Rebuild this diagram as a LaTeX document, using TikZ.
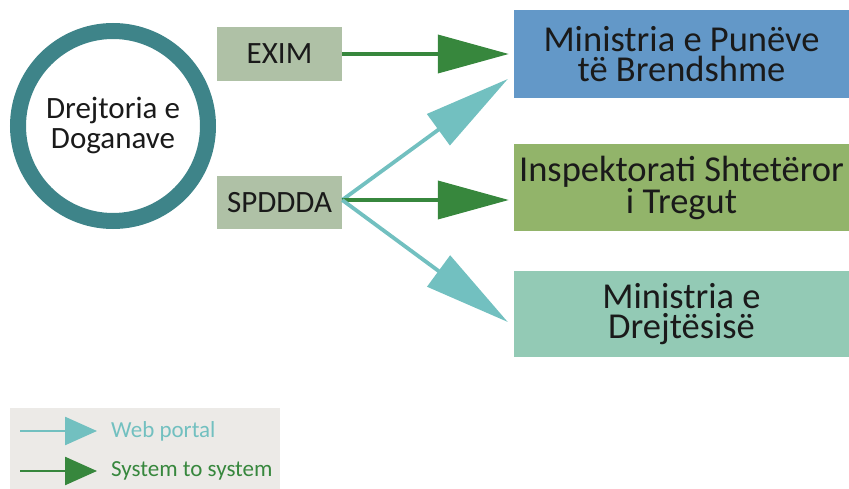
\documentclass[tikz,border=0pt]{standalone}
\usepackage{fontspec}
\setmainfont{Carlito}
\usetikzlibrary{
  arrows.meta,
  positioning,
  calc
}
\definecolor{ringteal}{HTML}{3E8489}
\definecolor{sage}{HTML}{AFC1A6}
\definecolor{mpbblue}{HTML}{6398C8}
\definecolor{istgreen}{HTML}{92B46A}
\definecolor{mdteal}{HTML}{93CAB5}
\definecolor{sysgreen}{HTML}{37873D}
\definecolor{webteal}{HTML}{72C0C0}
\definecolor{legendgrey}{HTML}{ECEAE7}
\definecolor{textgrey}{HTML}{1A1A1A}

\begin{document}
\begin{tikzpicture}[x=1pt,y=-1pt,text=textgrey,
  src/.style={rectangle, fill=sage, minimum width=125pt, minimum height=54pt, inner sep=0pt, font=\fontsize{31}{31}\selectfont},
  inst/.style={rectangle, minimum width=335pt, inner sep=0pt, align=center, font=\fontsize{36.5}{30}\selectfont},
  sys/.style={sysgreen, line width=3.8pt, -{Triangle[length=71pt,width=38pt]}, shorten >=5pt},
  web/.style={webteal, line width=3.8pt, -{Triangle[length=86pt,width=38pt]}},
  key/.style={anchor=west, inner sep=0pt, font=\fontsize{23}{23}\selectfont}]
\useasboundingbox (0,0) rectangle (849,489);
\node[circle, draw=ringteal, line width=16pt, minimum size=190pt, align=center, font=\fontsize{31}{30}\selectfont] (doga) at (113,126) {Drejtoria e\\Doganave};
\node[src] (exim) at (279.5,54) {EXIM};
\node[src, minimum height=53pt] (spddda) at (279.5,202.5) {SPDDDA};
\node[inst, fill=mpbblue, minimum height=88pt] (mpb) at (681.5,54) {Ministria e Punëve\\të Brendshme};
\node[inst, fill=istgreen, minimum height=87pt] (ist) at (681.5,187.5) {Inspektorati Shtetëror\\i Tregut};
\node[inst, fill=mdteal, minimum height=86pt] (md) at (681.5,314) {Ministria e\\Drejtësisë};
\coordinate (fork) at ([yshift=2.5pt]spddda.east);
\draw[sys] (exim) -- (mpb);
\draw[web] (fork) -- ([xshift=-6pt,yshift=-25pt]mpb.west);
\draw[sys] (fork) -- (fork -| ist.west);
\draw[web] (fork) -- ([xshift=-6pt,yshift=-8pt]md.west);
% legend
\node[rectangle, fill=legendgrey, minimum width=270pt, minimum height=81pt] (legend) at (145,448.5) {};
\node[key, text=webteal] (webkey) at (111,431) {Web portal};
\node[key, text=sysgreen] (syskey) at (111,471) {System to system};
\coordinate (webstart) at (20,431);
\coordinate (sysstart) at (20,471);
\draw[webteal, line width=2.5pt, -{Triangle[length=32pt,width=28pt]}, shorten >=14pt] (webstart) -- (webkey.west);
\draw[sysgreen, line width=2.5pt, -{Triangle[length=32pt,width=28pt]}, shorten >=14pt] (sysstart) -- (syskey.west);
\end{tikzpicture}
\end{document}
